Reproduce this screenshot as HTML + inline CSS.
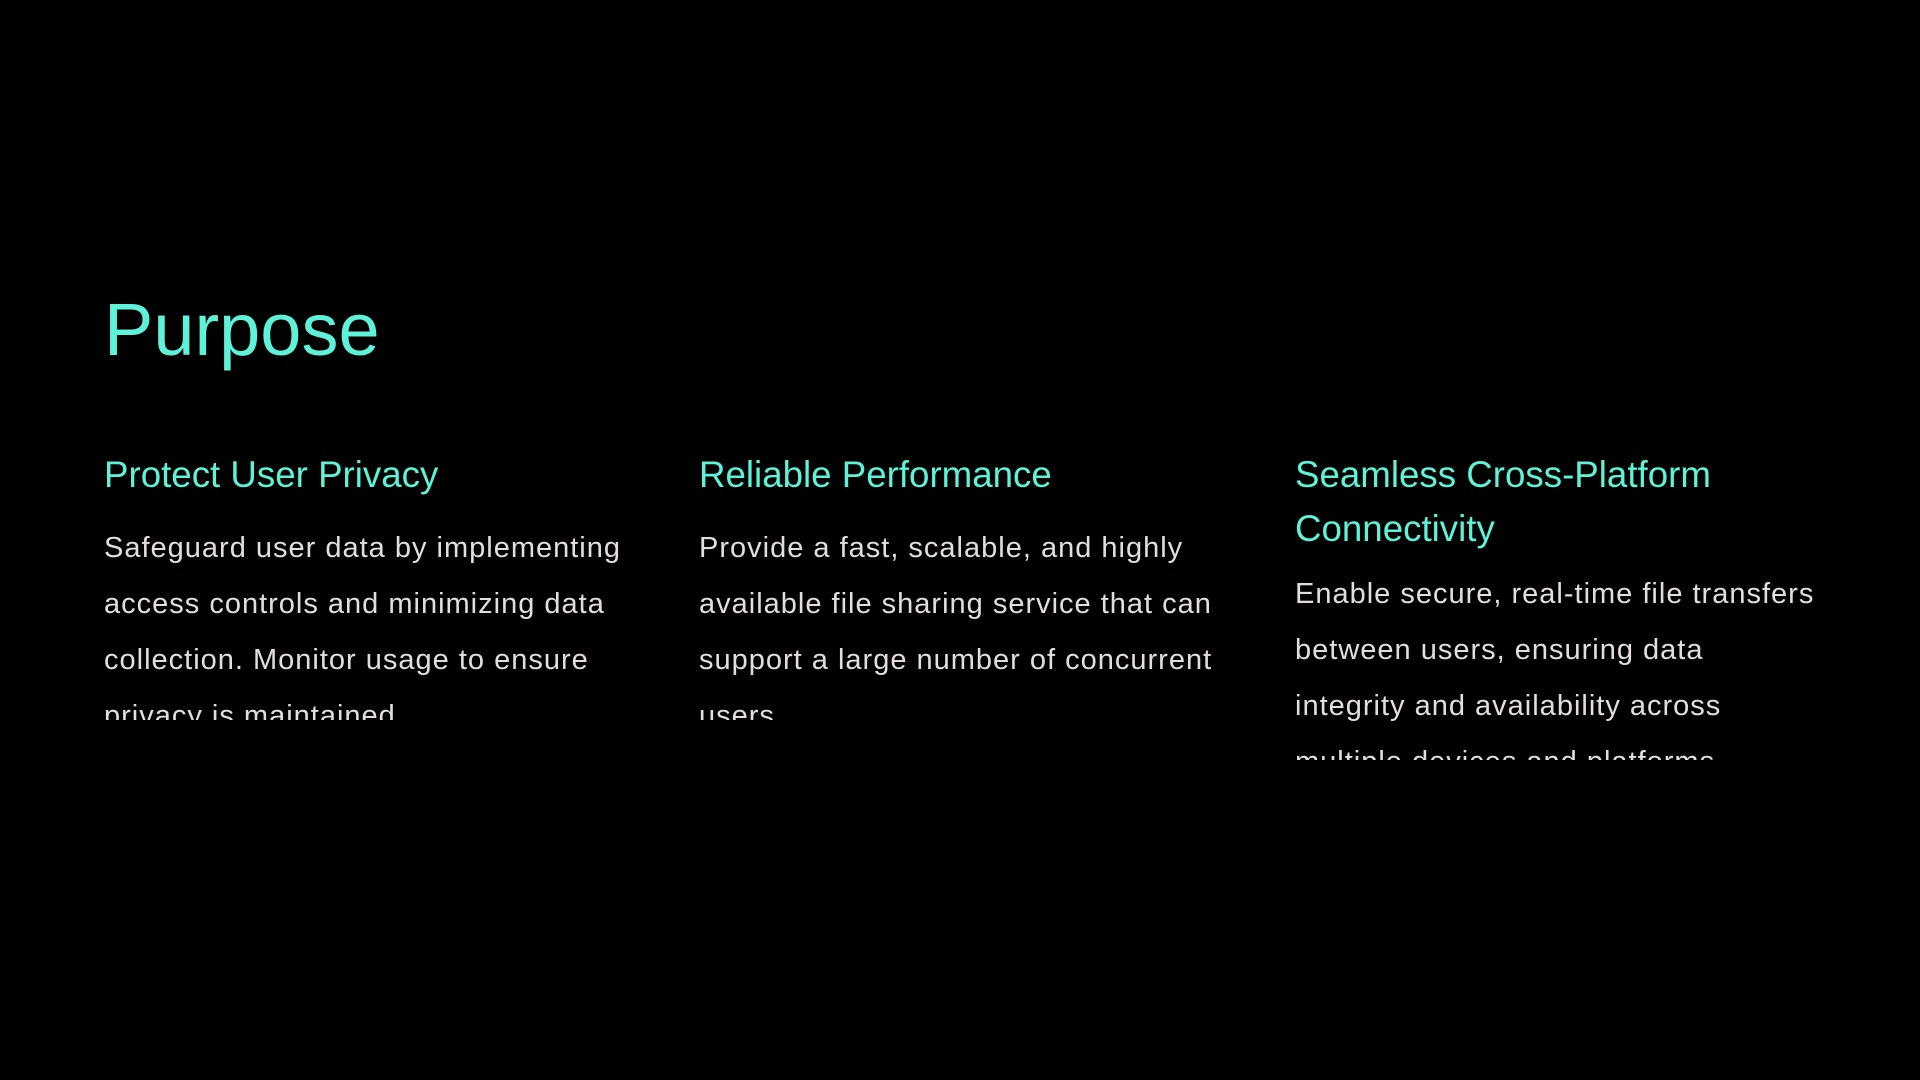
<!DOCTYPE html>
<html><head><meta charset="utf-8"><style>
html,body{margin:0;padding:0;background:#000;width:1920px;height:1080px;overflow:hidden}
.t{position:absolute;left:104px;top:293px;font:74px/1 "Liberation Sans",sans-serif;color:#5ef2d8;margin:0}
.col{position:absolute;top:448px;width:600px}
h2{margin:0;font:36.7px/54px "Liberation Sans",sans-serif;color:#5ef2d8;font-weight:normal;white-space:nowrap}
.b{margin-top:18px;font:29px/56px "Liberation Sans","DejaVu Sans",sans-serif;letter-spacing:1px;color:#e4dce0;white-space:nowrap;overflow:hidden}
</style></head><body>
<div class="t">Purpose</div>
<div class="col" style="left:104px"><h2>Protect User Privacy</h2>
<div class="b" style="height:200px">Safeguard user data by implementing<br>access controls and minimizing data<br>collection. Monitor usage to ensure<br>privacy is maintained.</div></div>
<div class="col" style="left:699px"><h2>Reliable Performance</h2>
<div class="b" style="height:200px">Provide a fast, scalable, and highly<br>available file sharing service that can<br>support a large number of concurrent<br>users.</div></div>
<div class="col" style="left:1295px"><h2>Seamless Cross-Platform<br>Connectivity</h2>
<div class="b" style="margin-top:10px;height:194px">Enable secure, real-time file transfers<br>between users, ensuring data<br>integrity and availability across<br>multiple devices and platforms.</div></div>
</body></html>
